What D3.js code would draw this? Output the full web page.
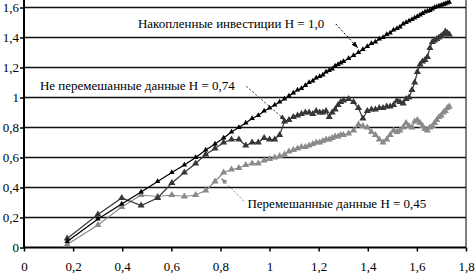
<!DOCTYPE html>
<html>
<head>
<meta charset="utf-8">
<script src="https://cdn.jsdelivr.net/npm/d3@7"></script>
<style>
  body { margin: 0; background: #fff; }
  svg { display: block; }
</style>
</head>
<body>
<div id="chart"></div>
<script>
// log of the period (x)
const logN = [
  0.176, 0.301, 0.398, 0.477, 0.544, 0.602, 0.653, 0.699, 0.740, 0.778,
  0.813, 0.845, 0.875, 0.903, 0.929, 0.954, 0.978, 1.000, 1.021, 1.041,
  1.061, 1.079, 1.097, 1.114, 1.130, 1.146, 1.161, 1.176, 1.190, 1.204,
  1.217, 1.230, 1.243, 1.255, 1.267, 1.279, 1.290, 1.301, 1.322, 1.342,
  1.362, 1.380, 1.398, 1.415, 1.431, 1.447, 1.462, 1.477, 1.491, 1.505,
  1.519, 1.531, 1.544, 1.556, 1.568, 1.580, 1.591, 1.602, 1.613, 1.623,
  1.633, 1.643, 1.653, 1.663, 1.672, 1.681, 1.690, 1.699, 1.708, 1.716,
  1.724, 1.732
];

// log(R/S), cumulative investments, H = 1,0
const cumulative = [
  0.04, 0.19, 0.29, 0.37, 0.44, 0.50, 0.55, 0.60, 0.65, 0.69,
  0.73, 0.77, 0.80, 0.83, 0.86, 0.88, 0.91, 0.93, 0.95, 0.97,
  0.99, 1.01, 1.03, 1.05, 1.06, 1.08, 1.10, 1.11, 1.13, 1.14,
  1.15, 1.17, 1.18, 1.19, 1.21, 1.22, 1.23, 1.24, 1.26, 1.28,
  1.30, 1.32, 1.34, 1.36, 1.37, 1.39, 1.40, 1.42, 1.43, 1.45,
  1.46, 1.47, 1.49, 1.50, 1.51, 1.52, 1.53, 1.54, 1.55, 1.56,
  1.57, 1.575, 1.58, 1.59, 1.60, 1.605, 1.61, 1.615, 1.62, 1.625,
  1.63, 1.635
];

// not shuffled data, H = 0,74
const unshuffled = [
  0.06, 0.22, 0.33, 0.28, 0.33, 0.43, 0.50, 0.56, 0.62, 0.66,
  0.70, 0.72, 0.72, 0.68, 0.70, 0.70, 0.73, 0.72, 0.72, 0.75,
  0.84, 0.85, 0.87, 0.88, 0.89, 0.90, 0.90, 0.89, 0.91, 0.90,
  0.90, 0.91, 0.87, 0.90, 0.92, 0.95, 0.97, 0.98, 0.99, 0.97,
  0.93, 0.86, 0.91, 0.92, 0.92, 0.93, 0.93, 0.94, 0.94, 0.95,
  0.98, 0.97, 0.96, 0.99, 1.00, 1.05, 1.10, 1.17, 1.22, 1.24,
  1.25, 1.27, 1.33, 1.37, 1.38, 1.39, 1.40, 1.41, 1.42, 1.44,
  1.43, 1.42
];

// shuffled data, H = 0,45
const shuffled = [
  0.02, 0.15, 0.27, 0.35, 0.34, 0.35, 0.34, 0.35, 0.38, 0.44,
  0.50, 0.52, 0.53, 0.55, 0.56, 0.56, 0.58, 0.59, 0.60, 0.61,
  0.62, 0.64, 0.65, 0.66, 0.67, 0.67, 0.68, 0.69, 0.70, 0.70,
  0.71, 0.72, 0.72, 0.73, 0.74, 0.74, 0.75, 0.75, 0.76, 0.78,
  0.82, 0.81, 0.80, 0.77, 0.75, 0.72, 0.70, 0.72, 0.75, 0.78,
  0.77, 0.78, 0.80, 0.83, 0.81, 0.80, 0.84, 0.85, 0.83, 0.81,
  0.79, 0.78, 0.80, 0.81, 0.83, 0.85, 0.87, 0.88, 0.90, 0.91,
  0.93, 0.94
];

const seriesNames = [
  'Перемешанные данные H = 0,45',
  'Не перемешанные данные H = 0,74',
  'Накопленные инвестиции H = 1,0'
];

const xTicks = [0, 0.2, 0.4, 0.6, 0.8, 1, 1.2, 1.4, 1.6, 1.8];
const xTickLabels = ['0', '0,2', '0,4', '0,6', '0,8', '1', '1,2', '1,4', '1,6', '1,8'];
const yTicks = [0, 0.2, 0.4, 0.6, 0.8, 1, 1.2, 1.4, 1.6];
const yTickLabels = ['0', '0,2', '0,4', '0,6', '0,8', '1', '1,2', '1,4', '1,6'];

const width = 476;
const height = 275;
const serif = '"Liberation Serif"';

const x = d3.scaleLinear().domain([0, 1.8]).range([24, 466]);
const y = d3.scaleLinear().domain([0, 1.6]).range([247.5, 7.5]);
const yTop = 1.65;

const svg = d3
  .select('#chart')
  .append('svg')
  .attr('width', width)
  .attr('height', height);

svg
  .append('defs')
  .selectAll('marker')
  .data([['arrow-black', '#000'], ['arrow-dark', '#333'], ['arrow-light', '#888']])
  .join('marker')
  .attr('id', (d) => d[0])
  .attr('viewBox', '0 0 8 6')
  .attr('refX', 8)
  .attr('refY', 3)
  .attr('markerWidth', 7)
  .attr('markerHeight', 5)
  .attr('markerUnits', 'userSpaceOnUse')
  .attr('orient', 'auto')
  .append('path')
  .attr('d', 'M0,0L8,3L0,6Z')
  .attr('fill', (d) => d[1]);

// gridlines
svg
  .append('g')
  .selectAll('line')
  .data(yTicks.slice(1))
  .join('line')
  .attr('x1', x(0))
  .attr('x2', x(1.8))
  .attr('y1', (d) => y(d))
  .attr('y2', (d) => y(d))
  .attr('stroke', '#111')
  .attr('stroke-width', 1.3);

// right border
svg
  .append('line')
  .attr('x1', x(1.8))
  .attr('x2', x(1.8))
  .attr('y1', y(yTop))
  .attr('y2', y(0))
  .attr('stroke', '#000')
  .attr('stroke-width', 1);

const yAxis = svg
  .append('g')
  .attr('transform', `translate(${x(0)},0)`)
  .call(
    d3
      .axisLeft(y)
      .tickValues(yTicks)
      .tickFormat((d, i) => yTickLabels[i])
      .tickSize(4)
      .tickPadding(1)
  );

const xAxis = svg
  .append('g')
  .attr('transform', `translate(0,${y(0)})`)
  .call(
    d3
      .axisBottom(x)
      .tickValues(xTicks)
      .tickFormat((d, i) => xTickLabels[i])
      .tickSize(4)
      .tickPadding(10)
  );

[yAxis, xAxis].forEach((g) => {
  g.attr('font-family', null).attr('font-size', null);
  g.select('.domain').remove();
  g.selectAll('.tick line').attr('stroke', '#000').attr('stroke-width', 1.5);
  g.selectAll('.tick text')
    .attr('fill', '#000')
    .style('font-family', serif)
    .style('font-size', '13px');
});

svg
  .append('line')
  .attr('x1', x(0))
  .attr('x2', x(0))
  .attr('y1', y(yTop))
  .attr('y2', y(0))
  .attr('stroke', '#000')
  .attr('stroke-width', 2);

svg
  .append('line')
  .attr('x1', x(0))
  .attr('x2', x(1.8))
  .attr('y1', y(0))
  .attr('y2', y(0))
  .attr('stroke', '#000')
  .attr('stroke-width', 2);

const series = [
  { values: shuffled, color: '#8a8a8a', size: 22, width: 1.2 },
  { values: unshuffled, color: '#363636', size: 22, width: 1.2 },
  { values: cumulative, color: '#000', size: 13, width: 1.3 }
];

const line = d3
  .line()
  .x((d) => x(d[0]))
  .y((d) => y(d[1]));

const triangle = d3.symbol().type(d3.symbolTriangle);

series.forEach((s) => {
  const pts = logN.map((v, i) => [v, s.values[i]]);
  const g = svg.append('g');
  g.append('path')
    .attr('d', line(pts))
    .attr('fill', 'none')
    .attr('stroke', s.color)
    .attr('stroke-width', s.width);
  g.selectAll('path.pt')
    .data(pts)
    .join('path')
    .attr('class', 'pt')
    .attr('transform', (d) => `translate(${x(d[0])},${y(d[1])})`)
    .attr('d', triangle.size(s.size)())
    .attr('fill', s.color);
});

// labels with dashed arrows, placed in data units
const notes = [
  { text: seriesNames[2], at: [0.464, 1.463], from: [1.27, 1.49], to: [1.36, 1.33], color: '#000', marker: 'arrow-black' },
  { text: seriesNames[1], at: [0.065, 1.05], from: [0.905, 1.075], to: [1.067, 0.845], color: '#333', marker: 'arrow-dark' },
  { text: seriesNames[0], at: [0.91, 0.263], from: [0.895, 0.31], to: [0.802, 0.463], color: '#888', marker: 'arrow-light' }
];

svg
  .append('g')
  .selectAll('line')
  .data(notes)
  .join('line')
  .attr('x1', (d) => x(d.from[0]))
  .attr('y1', (d) => y(d.from[1]))
  .attr('x2', (d) => x(d.to[0]))
  .attr('y2', (d) => y(d.to[1]))
  .attr('stroke', (d) => d.color)
  .attr('stroke-width', 1)
  .attr('stroke-dasharray', '2,2')
  .attr('marker-end', (d) => `url(#${d.marker})`);

svg
  .append('g')
  .selectAll('text')
  .data(notes)
  .join('text')
  .attr('x', (d) => x(d.at[0]))
  .attr('y', (d) => y(d.at[1]))
  .attr('fill', '#000')
  .style('font-family', serif)
  .style('font-size', '13px')
  .text((d) => d.text);
</script>
</body>
</html>
